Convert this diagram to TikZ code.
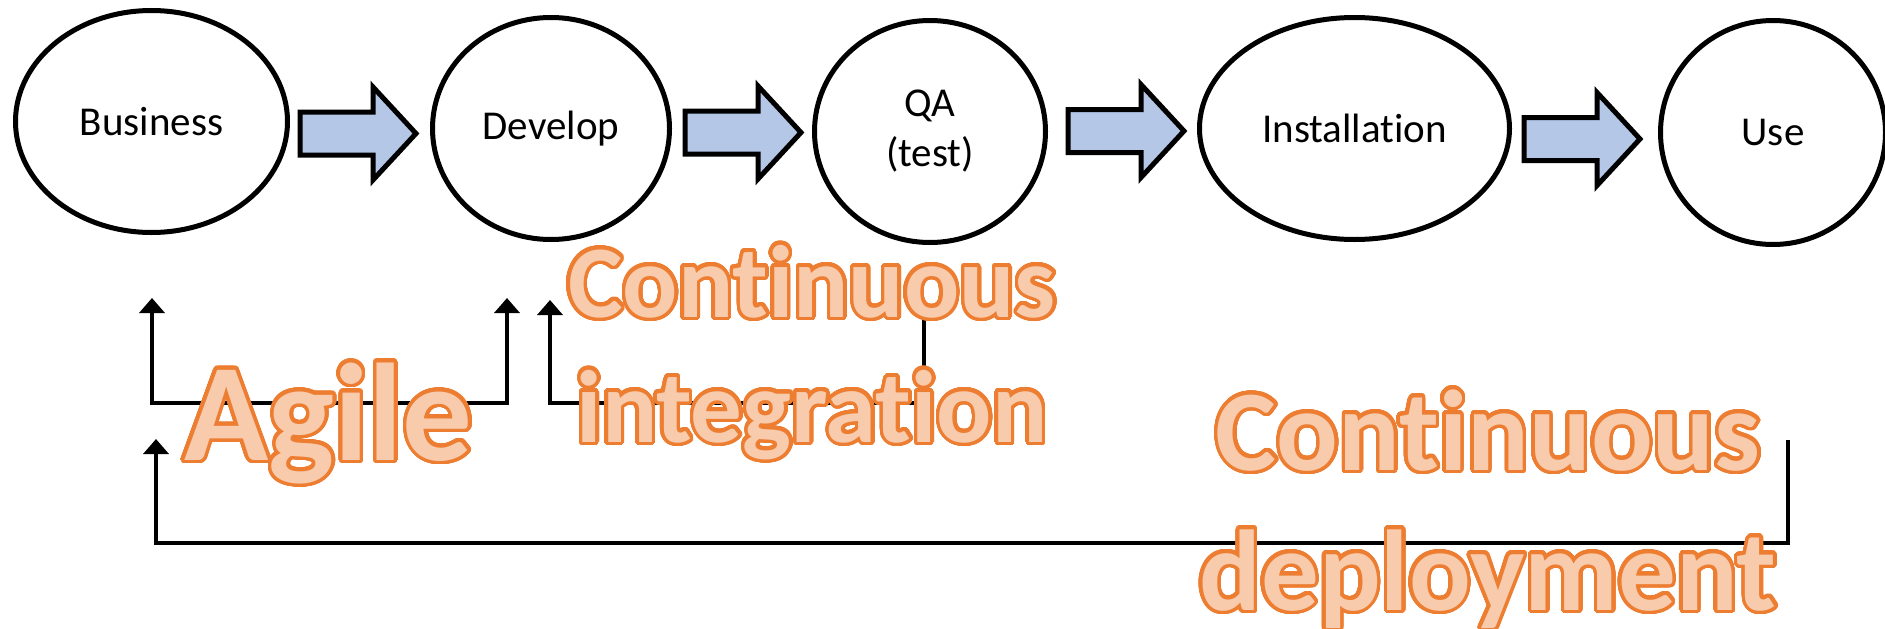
\documentclass[tikz,border=0pt]{standalone}
\usepackage{fontspec}
\setmainfont{Carlito}[Ligatures={NoCommon,NoContextual},RawFeature={-liga;-clig;-dlig}]
\usepackage[copies]{contour}
\usetikzlibrary{shapes.geometric,arrows.meta}

\definecolor{stepfill}{HTML}{B4C7E7}
\definecolor{wordfill}{HTML}{F8CBAD}
\definecolor{wordline}{HTML}{ED7D31}

\contourlength{3.5pt}
\contournumber{48}
% peach letters with an orange rim
\newcommand\outlined[1]{{\color{wordfill}\contour{wordline}{#1}}}

% thick block arrow between two stages: left end x, axis y
\newcommand\flowarrow[2]{%
  \path[flow] (#1,#2-21.5) -- (#1+73,#2-21.5) -- (#1+73,#2-46.5)
    -- (#1+116,#2) -- (#1+73,#2+46.5) -- (#1+73,#2+21.5)
    -- (#1,#2+21.5) -- cycle;}

\tikzset{
  stage/.style={ellipse, draw=black, line width=5pt, inner sep=0pt,
    font=\fontsize{41}{50}\selectfont, align=center},
  flow/.style={draw=black, fill=stepfill, line width=5pt, line join=miter},
  link/.style={draw=black, line width=4.5pt, line join=miter},
  tip/.tip={Triangle[width=25pt,length=15pt]},
  bigword/.style={anchor=base, inner sep=0pt}
}

\begin{document}
\begin{tikzpicture}[x=1pt, y=-1pt]
\useasboundingbox (0,0) rectangle (1885,629);

% stages
\node[stage, minimum width=272pt, minimum height=222pt] (business) at (151.5,121.5) {Business};
\node[stage, minimum width=237pt, minimum height=222pt] (develop) at (551,128.5) {Develop};
\node[stage, minimum width=231pt, minimum height=222pt] (qa) at (930,131.5) {QA\\(test)};
\node[stage, minimum width=310pt, minimum height=222pt] (install) at (1354.5,128.5) {Installation};
\node[stage, minimum width=225pt, minimum height=224pt] (use) at (1773,132.5) {Use};

% block arrows
\flowarrow{300}{133.5}
\flowarrow{685}{132.5}
\flowarrow{1068}{131}
\flowarrow{1524}{139}

% feedback loops
\coordinate (agL) at (152,298);
\coordinate (agR) at (507,298);
\coordinate (ciTop) at (924,317);
\coordinate (ciEnd) at (550,300);
\coordinate (cdTop) at (1788,440);
\coordinate (cdEnd) at (156,439);

\draw[link, tip-tip] (agL) -- ++(0,105) -| (agR);
\draw[link, -tip] (ciTop) -- ++(0,86) -| (ciEnd);
\draw[link, -tip] (cdTop) -- ++(0,103) -| (cdEnd);

% loop names
\node[bigword, font=\fontsize{139}{168}\selectfont\bfseries] (agile) at (328.5,460) {\outlined{Agile}};
\node[bigword, font=\fontsize{103}{125}\selectfont\bfseries] (ci) at (812,317)
  {\begin{tabular}[t]{@{}c@{}}\outlined{Continuous}\\\outlined{integration}\end{tabular}};
\node[bigword, font=\fontsize{115}{140}\selectfont\bfseries] (cd) at (1488,470)
  {\begin{tabular}[t]{@{}c@{}}\outlined{Continuous}\\\outlined{deployment}\end{tabular}};
\end{tikzpicture}
\end{document}
